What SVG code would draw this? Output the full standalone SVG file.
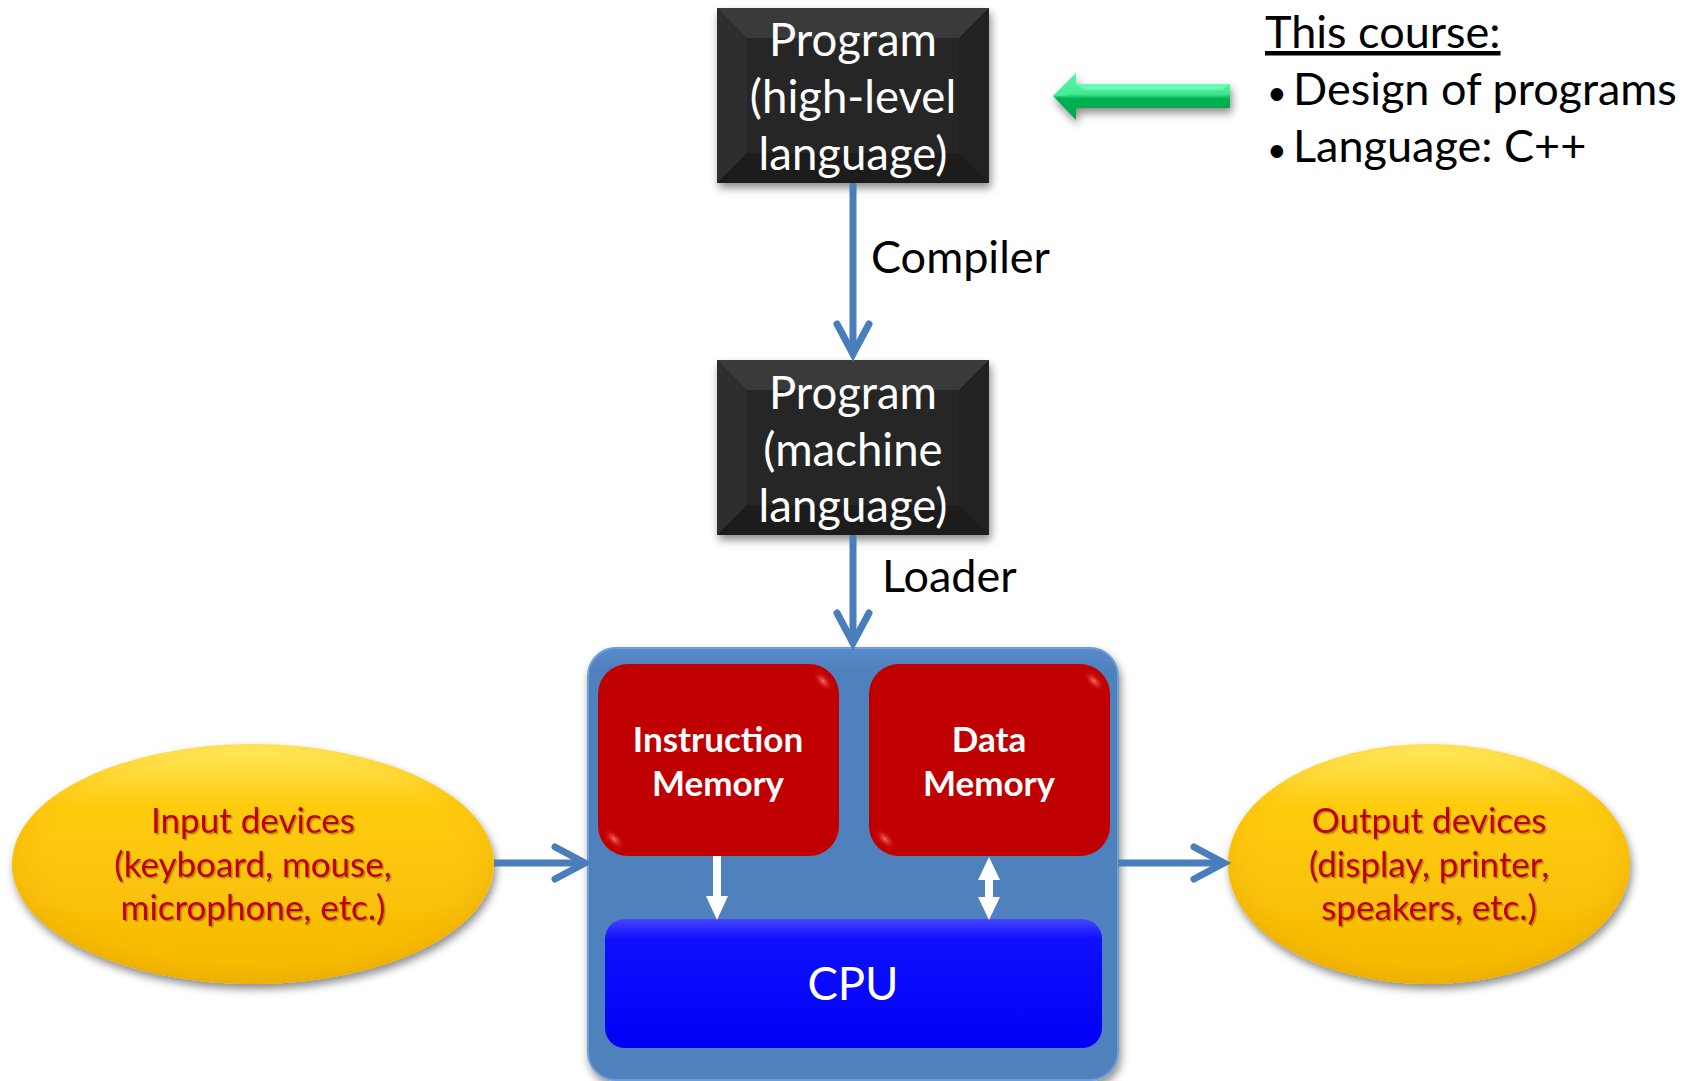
<svg xmlns="http://www.w3.org/2000/svg" width="1691" height="1081" viewBox="0 0 1691 1081">
<defs>
<style>
.t{font-family:Lato,"Open Sans","Liberation Sans",sans-serif}
.box{font-size:45.5px;fill:#ffffff;text-anchor:middle}
.lbl{font-size:45px;fill:#000000}
.mem{font-size:35px;font-weight:bold;fill:#ffffff;text-anchor:middle}
.dev{font-size:35px;fill:#C00000;text-anchor:middle}
.conn{stroke:#4A7EBB;stroke-width:7;fill:none}
</style>
<filter id="sh" x="-10%" y="-10%" width="125%" height="130%">
<feDropShadow dx="2" dy="5" stdDeviation="4" flood-color="#000" flood-opacity="0.45"/>
</filter>
<filter id="tsh" x="-5%" y="-5%" width="110%" height="120%">
<feDropShadow dx="1.5" dy="1.5" stdDeviation="0.6" flood-color="#000" flood-opacity="0.3"/>
</filter>
<marker id="chev" markerUnits="userSpaceOnUse" markerWidth="44" markerHeight="44" viewBox="-36 -22 44 44" refX="0" refY="0" orient="auto">
<path d="M-30,-16 L0,0 L-30,16" fill="none" stroke="#4A7EBB" stroke-width="7" stroke-linecap="round" stroke-linejoin="miter"/>
</marker>
<linearGradient id="blueC" x1="0" y1="0" x2="0" y2="1">
<stop offset="0" stop-color="#5A8ACB"/>
<stop offset="0.05" stop-color="#4F81BD"/>
<stop offset="1" stop-color="#4F81BD"/>
</linearGradient>
<linearGradient id="cpuG" x1="0" y1="0" x2="0" y2="1">
<stop offset="0" stop-color="#4646FF"/>
<stop offset="0.15" stop-color="#1010FF"/>
<stop offset="1" stop-color="#0000F5"/>
</linearGradient>
<linearGradient id="yel" x1="0" y1="0" x2="0" y2="1">
<stop offset="0" stop-color="#FFE860"/>
<stop offset="0.25" stop-color="#FFCC10"/>
<stop offset="1" stop-color="#F5B800"/>
</linearGradient>
<radialGradient id="yelR" cx="0.5" cy="0.45" r="0.55">
<stop offset="0.75" stop-color="#FBC10A" stop-opacity="0"/>
<stop offset="1" stop-color="#E8A800" stop-opacity="0.6"/>
</radialGradient>
<linearGradient id="grn" x1="0" y1="0" x2="0" y2="1">
<stop offset="0" stop-color="#60FFAA"/>
<stop offset="0.45" stop-color="#3EE890"/>
<stop offset="0.55" stop-color="#00B050"/>
<stop offset="1" stop-color="#00A848"/>
</linearGradient>
<radialGradient id="glint" cx="0.5" cy="0.5" r="0.5">
<stop offset="0" stop-color="#FF6A6A"/>
<stop offset="1" stop-color="#C00000" stop-opacity="0"/>
</radialGradient>
</defs>

<rect width="1691" height="1081" fill="#ffffff"/>

<g id="program-high">
<rect x="717" y="8" width="272" height="175" fill="#262626" filter="url(#sh)"/>
<polygon points="717,8 989,8 959,38 747,38" fill="#3A3A3A"/>
<polygon points="717,8 747,38 747,153 717,183" fill="#2E2E2E"/>
<polygon points="989,8 989,183 959,153 959,38" fill="#222222"/>
<polygon points="717,183 747,153 959,153 989,183" fill="#1C1C1C"/>
<rect x="747" y="38" width="212" height="115" fill="#262626"/>
<text class="t box"><tspan x="853" y="56">Program</tspan><tspan x="853" y="113">(high-level</tspan><tspan x="853" y="170">language)</tspan></text>
</g>

<g id="program-machine">
<rect x="717" y="360" width="272" height="175" fill="#262626" filter="url(#sh)"/>
<polygon points="717,360 989,360 959,390 747,390" fill="#3A3A3A"/>
<polygon points="717,360 747,390 747,505 717,535" fill="#2E2E2E"/>
<polygon points="989,360 989,535 959,505 959,390" fill="#222222"/>
<polygon points="717,535 747,505 959,505 989,535" fill="#1C1C1C"/>
<rect x="747" y="390" width="212" height="115" fill="#262626"/>
<text class="t box"><tspan x="853" y="409">Program</tspan><tspan x="853" y="466">(machine</tspan><tspan x="853" y="522">language)</tspan></text>
</g>

<g id="course-arrow">
<polygon points="1053,96 1076,73 1076,84 1230,84 1230,108 1076,108 1076,120" fill="url(#grn)" filter="url(#sh)"/>
<polygon points="1076,84 1230,84 1222,90 1084,90" fill="#7FFFC0" opacity="0.6"/>
<polygon points="1053,96 1076,73 1076,84 1084,90 1064,96" fill="#4CF09A" opacity="0.6"/>
</g>

<g id="course-text">
<text class="t lbl" x="1265" y="48" text-decoration="underline">This course:</text>
<text class="t lbl"><tspan x="1267" y="105" font-size="34">•</tspan><tspan x="1293" y="105">Design of programs</tspan></text>
<text class="t lbl"><tspan x="1267" y="162" font-size="34">•</tspan><tspan x="1293" y="162">Language: C++</tspan></text>
</g>

<g id="computer">
<rect x="588" y="648" width="530" height="432" rx="28" fill="url(#blueC)" stroke="#6E9ED6" stroke-width="2" filter="url(#sh)"/>
<g id="instruction-memory">
<rect x="598" y="664" width="241" height="192" rx="30" fill="#C00000"/>
<ellipse cx="823" cy="681" rx="14" ry="7" transform="rotate(45 823 681)" fill="url(#glint)"/>
<ellipse cx="614" cy="839" rx="14" ry="7" transform="rotate(45 614 839)" fill="url(#glint)"/>
<text class="t mem"><tspan x="718" y="752">Instruction</tspan><tspan x="718" y="796">Memory</tspan></text>
</g>
<g id="data-memory">
<rect x="869" y="664" width="241" height="192" rx="30" fill="#C00000"/>
<ellipse cx="1094" cy="681" rx="14" ry="7" transform="rotate(45 1094 681)" fill="url(#glint)"/>
<ellipse cx="885" cy="839" rx="14" ry="7" transform="rotate(45 885 839)" fill="url(#glint)"/>
<text class="t mem"><tspan x="989" y="752">Data</tspan><tspan x="989" y="796">Memory</tspan></text>
</g>
<g id="cpu">
<rect x="605" y="919" width="497" height="129" rx="20" fill="url(#cpuG)"/>
<text class="t box" x="853" y="1000" font-size="43">CPU</text>
</g>
</g>

<g id="input-devices">
<ellipse cx="253" cy="864" rx="241" ry="120" fill="url(#yel)" filter="url(#sh)"/>
<ellipse cx="253" cy="864" rx="241" ry="120" fill="url(#yelR)"/>
<text class="t dev" filter="url(#tsh)"><tspan x="253" y="833">Input devices</tspan><tspan x="253" y="877">(keyboard, mouse,</tspan><tspan x="253" y="920">microphone, etc.)</tspan></text>
</g>

<g id="output-devices">
<ellipse cx="1429" cy="864" rx="201" ry="120" fill="url(#yel)" filter="url(#sh)"/>
<ellipse cx="1429" cy="864" rx="201" ry="120" fill="url(#yelR)"/>
<text class="t dev" filter="url(#tsh)"><tspan x="1429" y="833">Output devices</tspan><tspan x="1429" y="877">(display, printer,</tspan><tspan x="1429" y="920">speakers, etc.)</tspan></text>
</g>

<g id="connectors">
<line class="conn" x1="853" y1="183" x2="853" y2="354" marker-end="url(#chev)"/>
<text class="t lbl" x="871" y="273">Compiler</text>
<line class="conn" x1="853" y1="535" x2="853" y2="643" marker-end="url(#chev)"/>
<text class="t lbl" x="882" y="592">Loader</text>
<line class="conn" x1="494" y1="863" x2="585" y2="863" marker-end="url(#chev)"/>
<line class="conn" x1="1118" y1="863" x2="1224" y2="863" marker-end="url(#chev)"/>
<g fill="#ffffff">
<rect x="713" y="856" width="8" height="42"/>
<polygon points="706,896 728,896 717,920"/>
<rect x="985" y="876" width="8" height="26"/>
<polygon points="978,880 1000,880 989,857"/>
<polygon points="978,897 1000,897 989,920"/>
</g>
</g>
</svg>
